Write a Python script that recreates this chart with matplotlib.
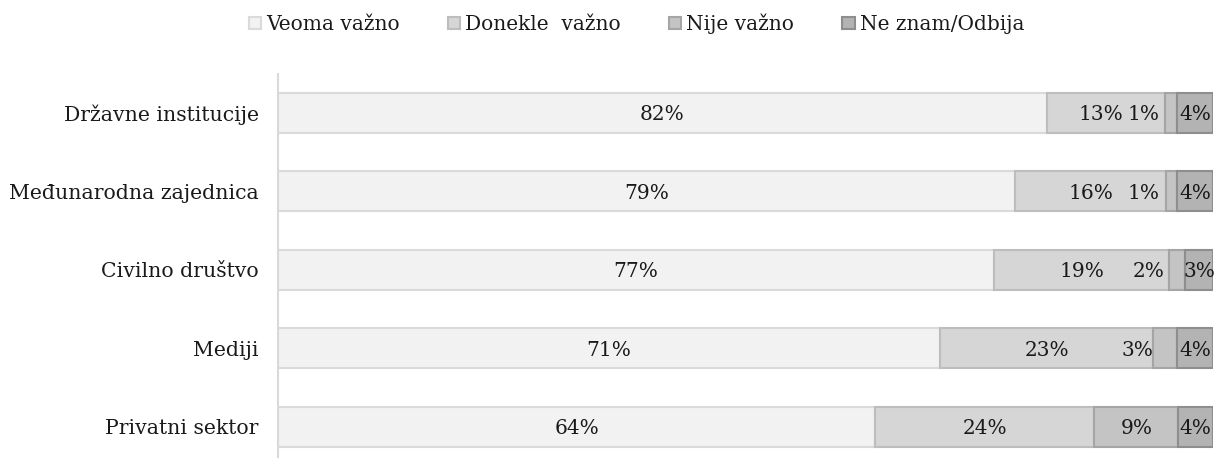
import matplotlib
matplotlib.use("Agg")
import matplotlib.pyplot as plt
import numpy as np

categories = ["Državne institucije", "Međunarodna zajednica", "Civilno društvo", "Mediji", "Privatni sektor"]
series_names = ["Veoma važno", "Donekle  važno", "Nije važno", "Ne znam/Odbija"]
veoma = [82.2, 78.8, 76.6, 70.8, 63.9]
donekle = [12.7, 16.2, 18.7, 22.8, 23.4]
nije = [1.3, 1.2, 1.7, 2.6, 9.0]
neznam = [3.8, 3.8, 3.0, 3.8, 3.7]
labels = [
    ["82%", "13%", "1%", "4%"],
    ["79%", "16%", "1%", "4%"],
    ["77%", "19%", "2%", "3%"],
    ["71%", "23%", "3%", "4%"],
    ["64%", "24%", "9%", "4%"],
]

fills = ["#f2f2f2", "#d6d6d6", "#c4c4c4", "#b3b3b3"]
edges = ["#dadada", "#bdbdbd", "#a5a5a5", "#8e8e8e"]

plt.rcParams['font.family'] = ['DejaVu Serif']

fig = plt.figure(figsize=(12.17, 4.58), dpi=100)
ax = fig.add_axes([278/1217, 1-466/458, (1213-278)/1217, (466-73.75)/458])

series = [veoma, donekle, nije, neznam]
y = np.arange(len(categories))
left = np.zeros(len(categories))
handles = []
for si, vals in enumerate(series):
    vals = np.array(vals)
    b = ax.barh(y, vals, left=left, height=0.51, color=fills[si], edgecolor=edges[si],
                linewidth=1.5, label=series_names[si])
    handles.append(b)
    for i in range(len(categories)):
        cx = left[i] + vals[i] / 2
        off = -28 if (vals[i] < 3.5 and si < 3) else 0
        if si == 1 and vals[i] < 15:
            off = -5
        ax.annotate(labels[i][si], (cx, y[i]), xytext=(off, -2), textcoords='offset pixels',
                    ha='center', va='center', fontsize=14.5, color='#1a1a1a')
    left = left + vals

ax.set_xlim(0, 100)
ax.set_ylim(4.5, -0.5)
ax.set_yticks(y)
ax.set_yticklabels(categories, fontsize=14.7, color='#1a1a1a')
ax.tick_params(axis='y', length=0, pad=14)
ax.set_xticks([])
for s in ['top', 'right', 'bottom']:
    ax.spines[s].set_visible(False)
ax.spines['left'].set_color('#d9d9d9')
ax.spines['left'].set_linewidth(1.5)

fig.legend(handles=handles, labels=series_names, loc='upper center', bbox_to_anchor=(0.523, 1.01),
           ncol=4, frameon=False, fontsize=14.5, handlelength=0.6, handleheight=0.6,
           handletextpad=0.25, columnspacing=2.4, labelcolor='#1a1a1a')

fig.savefig("out.png", dpi=100)
